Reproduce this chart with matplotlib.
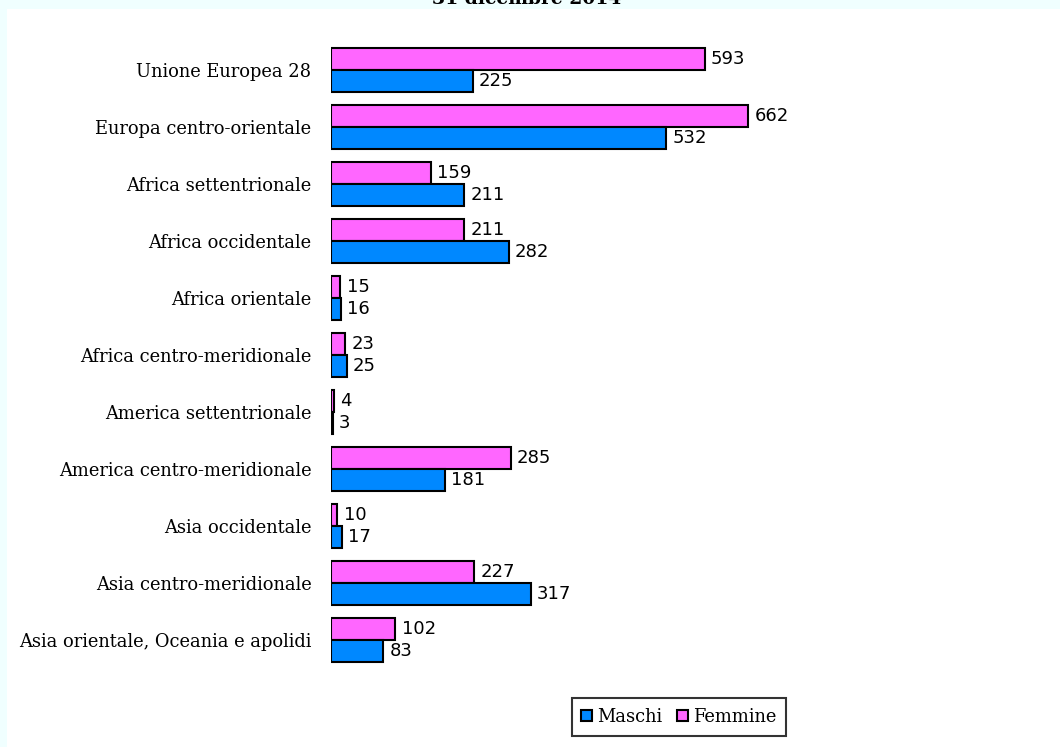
import matplotlib
matplotlib.use("Agg")
import matplotlib.pyplot as plt

categories = ["Unione Europea 28", "Europa centro-orientale", "Africa settentrionale",
              "Africa occidentale", "Africa orientale", "Africa centro-meridionale",
              "America settentrionale", "America centro-meridionale", "Asia occidentale",
              "Asia centro-meridionale", "Asia orientale, Oceania e apolidi"]
maschi = [225, 532, 211, 282, 16, 25, 3, 181, 17, 317, 83]
femmine = [593, 662, 159, 211, 15, 23, 4, 285, 10, 227, 102]
title = "31 dicembre 2014"

W, H = 1060, 747
fig = plt.figure(figsize=(W / 100, H / 100), dpi=100)
fig.patch.set_facecolor("#F0FFFF")
bg = fig.add_axes([7 / W, 0, 1 - 7 / W, 1 - 9 / H], zorder=-5)
bg.set_facecolor("white")
bg.set_xticks([])
bg.set_yticks([])
for s in bg.spines.values():
    s.set_visible(False)

fig.text(527 / W, 1 - 4 / H, title, ha="center", va="baseline", fontsize=13.5,
         fontweight="bold", family="DejaVu Serif")

x0, x1 = 331, 1000
y_top, y_bot = 41.5, 668.5
ax = fig.add_axes([x0 / W, 1 - y_bot / H, (x1 - x0) / W, (y_bot - y_top) / H], zorder=1)
ax.set_facecolor("none")
scale = 0.63
ax.set_xlim(0, (x1 - x0) / scale)
n = len(categories)
ax.set_ylim(n - 0.5, -0.5)

h = 22 / 57
pos = list(range(n))
ax.barh([p - h / 2 for p in pos], femmine, height=h, color="#FF66FF", edgecolor="black",
        linewidth=1.5, label="Femmine", zorder=2)
ax.barh([p + h / 2 for p in pos], maschi, height=h, color="#0088FF", edgecolor="black",
        linewidth=1.5, label="Maschi", zorder=2)

for p, f, m in zip(pos, femmine, maschi):
    ax.annotate(str(f), (f, p - h / 2), xytext=(4.5, 0), textcoords="offset points",
                va="center", ha="left", fontsize=13, family="DejaVu Sans")
    ax.annotate(str(m), (m, p + h / 2), xytext=(4.5, 0), textcoords="offset points",
                va="center", ha="left", fontsize=13, family="DejaVu Sans")

ax.set_yticks(pos)
ax.set_yticklabels(categories, family="DejaVu Serif", fontsize=12.9)
ax.tick_params(axis="y", length=0, pad=14)
ax.set_xticks([])
for s in ax.spines.values():
    s.set_visible(False)

handles, labels = ax.get_legend_handles_labels()
leg = fig.legend(handles[::-1], labels[::-1], loc="center", bbox_to_anchor=(679 / W, 1 - 717 / H),
                 ncol=2, prop={"family": "DejaVu Serif", "size": 12.9}, frameon=True,
                 fancybox=False, edgecolor="black", handlelength=0.6, handleheight=0.6,
                 handletextpad=0.3, columnspacing=0.8, borderpad=0.55)
leg.get_frame().set_linewidth(1.5)
leg.set_zorder(3)

fig.savefig("out.png", dpi=100, facecolor=fig.get_facecolor())
